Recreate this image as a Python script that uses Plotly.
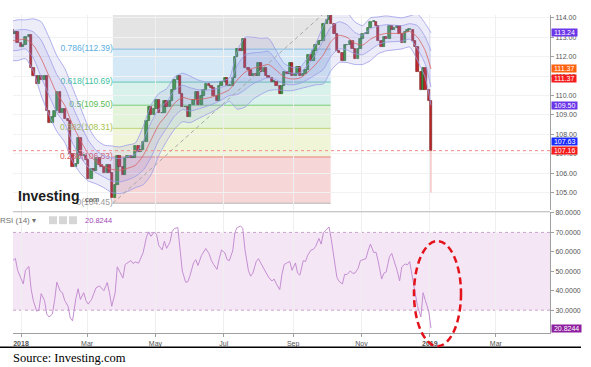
import pandas as pd
import plotly.graph_objects as go

W, H = 591, 367

# ---------------- data ----------------
first_open = 113.4
# closes on Mon / Wed / Fri, week by week, 25 Dec 2017 -> 2 Jan 2019
closes = [
    113.2, 113.3, 112.7,
    112.5, 112.6, 113.0,
    113.1, 111.4, 111.0,
    110.6, 111.0, 110.8,
    111.0, 109.2, 108.6,
    108.9, 109.2, 110.2,
    109.1, 109.3, 108.8,
    108.7, 107.0, 106.3,
    106.5, 107.8, 106.9,
    106.9, 106.7, 105.7,
    106.2, 106.1, 106.8,
    106.4, 106.3, 106.0,
    106.4, 106.0, 104.7,
    105.4, 106.9, 106.3,
    105.9, 106.8, 106.9,
    106.8, 106.8, 107.4,
    107.1, 107.2, 107.6,
    108.7, 109.4, 109.0,
    109.3, 109.8, 109.1,
    109.1, 109.7, 109.4,
    109.7, 110.3, 110.8,
    111.0, 110.1, 109.4,
    109.4, 108.9, 109.5,
    109.8, 110.2, 109.5,
    110.0, 110.3, 110.6,
    110.5, 110.4, 110.0,
    109.7, 110.5, 110.7,
    110.9, 110.5, 110.5,
    110.9, 112.0, 112.4,
    112.3, 112.9, 111.4,
    111.3, 111.0, 111.1,
    111.0, 111.7, 111.2,
    111.4, 111.0, 110.9,
    110.7, 110.7, 110.5,
    110.1, 110.5, 111.2,
    111.1, 111.7, 111.0,
    111.1, 111.5, 111.0,
    111.1, 111.3, 112.1,
    111.8, 112.3, 112.6,
    112.8, 112.8, 113.7,
    113.9, 114.5, 113.7,
    113.2, 112.3, 112.2,
    111.8, 112.6, 112.6,
    112.8, 112.4, 111.9,
    112.4, 112.9, 113.2,
    113.2, 113.5, 113.8,
    113.8, 113.6, 112.8,
    112.5, 113.0, 112.9,
    113.6, 113.4, 113.5,
    113.6, 113.2, 112.7,
    113.3, 113.4, 113.4,
    112.8, 112.5, 111.2,
    110.3, 111.4, 110.3,
    109.7, 107.16,
]
flash_crash_low = 105.0

rsi_values = [
    55.7, 56.6, 50.5,
    46.5, 43.5, 50.5,
    52.5, 41.0, 34.9,
    29.5, 30.0, 38.5,
    35.0, 28.0, 26.5,
    28.0, 35.0, 44.4,
    39.8, 39.0, 35.0,
    32.0, 26.0, 24.5,
    36.0, 41.0, 35.5,
    39.0, 35.0, 33.1,
    35.5, 38.5, 41.5,
    42.5, 41.3, 40.0,
    44.2, 39.0, 32.0,
    38.8, 52.3, 50.0,
    46.5, 53.5, 54.5,
    55.5, 54.0, 54.8,
    54.2, 56.6, 59.5,
    67.5, 70.3, 68.0,
    70.2, 69.0, 63.3,
    61.0, 65.5, 61.8,
    65.0, 70.5, 72.0,
    72.5, 59.2, 50.2,
    44.4, 44.6, 48.0,
    54.3, 56.0, 53.0,
    58.0, 60.0, 61.7,
    59.0, 55.5, 53.5,
    51.0, 56.5, 61.0,
    59.5, 56.0, 55.5,
    60.5, 70.0, 72.5,
    73.3, 72.0, 61.0,
    50.5, 47.5, 49.0,
    55.0, 56.5, 54.3,
    51.0, 48.5, 47.0,
    45.0, 46.0, 43.5,
    40.5, 48.5, 53.5,
    54.5, 55.0, 50.5,
    54.3, 49.0, 48.0,
    55.5, 55.0, 58.3,
    61.0, 61.3, 62.7,
    66.9, 64.0, 69.8,
    71.3, 72.8, 66.5,
    54.0, 47.0, 44.8,
    43.5, 48.5, 48.3,
    50.2, 49.0, 49.0,
    51.5, 55.5, 56.0,
    56.5, 60.8, 64.0,
    59.6, 59.8, 54.9,
    46.0, 49.0, 49.6,
    57.5, 59.2, 55.5,
    50.0, 45.0, 52.3,
    53.8, 53.3, 55.0,
    45.0, 38.7, 32.0,
    26.5, 39.0, 35.0,
    29.5, 20.8244,
]

# Bollinger band (20, 2): weekly readings of the middle line and the half-width
bb_mid = [
    112.8, 112.85,
    112.9, 112.6, 111.9, 111.0,
    110.1, 109.5, 108.5, 107.7,
    107.0, 106.6, 106.35, 106.2, 106.15,
    106.25, 106.4, 106.9, 107.7,
    108.5, 109.0, 109.6, 109.9,
    109.8, 109.8, 109.85, 109.95, 110.1,
    110.3, 110.8, 111.2, 111.4,
    111.5, 111.6, 111.3, 110.95, 110.85,
    110.9, 111.2, 111.6, 112.1,
    112.8, 113.1, 113.0, 112.7,
    112.6, 112.9, 113.1, 113.2, 113.2,
    113.2, 113.3, 113.0, 112.3,
    111.37,
]
bb_half = [
    1.0, 1.05,
    1.0, 1.35, 1.9, 2.0,
    1.95, 1.9, 1.9, 1.7,
    1.4, 1.15, 1.1, 1.2, 1.2,
    1.2, 1.15, 1.5, 1.8,
    1.6, 1.35, 1.35, 1.25,
    1.2, 1.0, 0.85, 0.75, 0.65,
    0.6, 1.5, 1.8, 1.6,
    1.45, 1.35, 1.0, 0.7, 0.6,
    0.55, 0.75, 1.05, 1.5,
    1.5, 1.4, 1.3, 1.1,
    1.0, 1.1, 0.95, 0.9, 0.85,
    0.8, 0.8, 1.2, 1.4,
    1.87,
]

fib_low, fib_high = 104.45, 114.55
fib_low_date, fib_high_date = "2018-03-24", "2018-10-04 12:00"
fib_ratios = [0, 0.236, 0.382, 0.5, 0.618, 0.786, 1]
fib_ratio_text = ["0", "0.236", "0.382", "0.5", "0.618", "0.786", "1"]

tag_values = [113.24, 111.37, 111.37, 109.50, 107.63, 107.16]
last_price = 107.16
rsi_last = 20.8244

month_ticks = ["2018-01-01", "2018-03-01", "2018-05-01", "2018-07-01",
               "2018-09-01", "2018-11-01", "2019-01-01", "2019-03-01"]
month_labels = ["<b>2018</b>", "Mar", "May", "Jul", "Sep", "Nov", "<b>2019</b>", "Mar"]
price_ticks = [104, 105, 106, 107, 108, 109, 110, 111, 112, 113, 114]
rsi_ticks = [30, 40, 50, 60, 70, 80]

# ---------------- helpers / derived ----------------
def px(x):
    return x / W


def py(y):
    return 1 - y / H


candle_dates = list(pd.bdate_range("2017-12-25", "2019-01-02", freq="C", weekmask="Mon Wed Fri"))
assert len(candle_dates) == len(closes) == len(rsi_values)
bb_dates = list(pd.date_range("2017-12-22", "2018-12-28", freq="W-FRI")) + [pd.Timestamp("2019-01-02")]
assert len(bb_dates) == len(bb_mid) == len(bb_half)

opens = [first_open] + closes[:-1]
body_base = [min(o, c) for o, c in zip(opens, closes)]
body_len = [max(abs(c - o), 0.03) for o, c in zip(opens, closes)]
body_col = ["#3a9a3e" if c >= o else "#c3282b" for o, c in zip(opens, closes)]
edge_col = ["#1d5a20" if c >= o else "#6a1012" for o, c in zip(opens, closes)]

upper2 = [m + h for m, h in zip(bb_mid, bb_half)]
lower2 = [m - h for m, h in zip(bb_mid, bb_half)]
upper1 = [m + h / 2 for m, h in zip(bb_mid, bb_half)]
lower1 = [m - h / 2 for m, h in zip(bb_mid, bb_half)]

fib_levels = [fib_low + r * (fib_high - fib_low) for r in fib_ratios]
zone_fill = ["#f6d6d6", "#f1f5d8", "#e3f4da", "#d8f1ea", "#d4e9f5", "#e4e4e4"]
level_line = ["#b8b8b8", "#e88484", "#bcd276", "#78ca78", "#62c6b2", "#80bae2", "#b0b0b0"]
level_text = ["#9a9a9a", "#e05a5a", "#a3c24a", "#57bb57", "#3dbf9f", "#5aaee0", "#999999"]

fig = go.Figure()

# fib labels (under bands and candles)
fig.add_trace(go.Scatter(
    x=[fib_low_date] * 6, y=fib_levels[:6], mode="text",
    text=[f"{t}({v:.2f})" for t, v in zip(fib_ratio_text[:6], fib_levels[:6])],
    textposition="middle left",
    textfont=dict(size=8.5, color=level_text[:6], family="Arial, Liberation Sans, sans-serif"),
    hoverinfo="skip", xaxis="x", yaxis="y"))

# Bollinger bands
band_line = dict(color="#9c9ce8", width=0.8, shape="spline", smoothing=0.6)
fig.add_trace(go.Scatter(x=bb_dates, y=upper2, mode="lines", line=band_line, xaxis="x", yaxis="y"))
fig.add_trace(go.Scatter(x=bb_dates, y=lower2, mode="lines", line=band_line, fill="tonexty",
                         fillcolor="rgba(150,150,228,0.17)", xaxis="x", yaxis="y"))
fig.add_trace(go.Scatter(x=bb_dates, y=upper1, mode="lines", line=band_line, xaxis="x", yaxis="y"))
fig.add_trace(go.Scatter(x=bb_dates, y=lower1, mode="lines", line=band_line, fill="tonexty",
                         fillcolor="rgba(120,120,215,0.13)", xaxis="x", yaxis="y"))
fig.add_trace(go.Scatter(x=bb_dates, y=bb_mid, mode="lines",
                         line=dict(color="#d96060", width=0.8, shape="spline", smoothing=0.6),
                         xaxis="x", yaxis="y"))

# fib trend line (low -> high)
fig.add_trace(go.Scatter(x=[fib_low_date, fib_high_date], y=[fib_low, fib_high], mode="lines",
                         line=dict(color="#a8a8a8", width=1, dash="4px,3px"), xaxis="x", yaxis="y"))

# flash-crash wick of the last candle
fig.add_trace(go.Scatter(x=[candle_dates[-1], candle_dates[-1]], y=[flash_crash_low, body_base[-1]],
                         mode="lines", line=dict(color="#f2a6a6", width=1), xaxis="x", yaxis="y"))

# candle bodies
fig.add_trace(go.Bar(x=candle_dates, y=body_len, base=body_base, width=2.1 * 86400000,
                     marker=dict(color=body_col, line=dict(color=edge_col, width=0.6)),
                     xaxis="x", yaxis="y"))

# RSI
fig.add_trace(go.Scatter(x=candle_dates, y=rsi_values, mode="lines",
                         line=dict(color="#c48ed2", width=1), xaxis="x2", yaxis="y2"))

shapes = []
for i in range(6):
    shapes.append(dict(type="rect", xref="x", yref="y", x0=fib_low_date, x1=fib_high_date,
                       y0=fib_levels[i], y1=fib_levels[i + 1], fillcolor=zone_fill[i],
                       line=dict(width=0), layer="below"))
for i in range(7):
    shapes.append(dict(type="line", xref="x", yref="y", x0=fib_low_date, x1=fib_high_date,
                       y0=fib_levels[i], y1=fib_levels[i], line=dict(color=level_line[i], width=1),
                       layer="below"))
# last price dotted line
shapes.append(dict(type="line", xref="paper", yref="y", x0=px(13), x1=px(550),
                   y0=last_price, y1=last_price, line=dict(color="#f08c8c", width=1, dash="dot")))
# RSI 30-70 band
shapes.append(dict(type="rect", xref="paper", yref="y2", x0=px(13), x1=px(550), y0=30, y1=70,
                   fillcolor="#f4e6f5", line=dict(width=0), layer="below"))
for lv in (30, 70):
    shapes.append(dict(type="line", xref="paper", yref="y2", x0=px(13), x1=px(550), y0=lv, y1=lv,
                       line=dict(color="#c6a4c8", width=1, dash="3px,3px"), layer="below"))
# panel separator
shapes.append(dict(type="line", xref="paper", yref="paper", x0=px(13), x1=px(550),
                   y0=py(210.5), y1=py(210.5), line=dict(color="#b4b4b4", width=1)))
# RSI header icons
for xl in (49, 59, 69):
    shapes.append(dict(type="rect", xref="paper", yref="paper", x0=px(xl), x1=px(xl + 8),
                       y0=py(223), y1=py(215), fillcolor="#d6d6d6", line=dict(width=0)))
# page rule under chart
shapes.append(dict(type="line", xref="paper", yref="paper", x0=0, x1=px(581),
                   y0=py(347), y1=py(347), line=dict(color="black", width=1.5)))
# red dashed ellipse
shapes.append(dict(type="circle", xref="paper", yref="paper", x0=px(414), x1=px(461),
                   y0=py(346), y1=py(240), line=dict(color="#e3121b", width=2.5, dash="7px,4px")))

annotations = []
tag_colors = ["#6b36e8", "#ff6310", "#f41c1c", "#6b36e8", "#1c2cff", "#f41c1c"]
tag_shift = [0, 0, -10, 0, 0, 0]
for v, c, s in zip(tag_values, tag_colors, tag_shift):
    annotations.append(dict(x=px(551), xref="paper", xanchor="left", y=v, yref="y", yanchor="middle",
                            yshift=s, text=f" {v:.2f} ", showarrow=False, bgcolor=c, borderpad=0,
                            font=dict(size=7, color="white")))
annotations.append(dict(x=px(551), xref="paper", xanchor="left", y=rsi_last, yref="y2",
                        yanchor="middle", text=f" {rsi_last:.4f} ", showarrow=False,
                        bgcolor="#8e1f9e", borderpad=0, font=dict(size=7, color="white")))
annotations.append(dict(x=px(-2), xref="paper", xanchor="left", y=py(219), yref="paper",
                        yanchor="middle", text="RSI (14) ▾", showarrow=False,
                        font=dict(size=8, color="#707070")))
annotations.append(dict(x=px(83), xref="paper", xanchor="left", y=py(219), yref="paper",
                        yanchor="middle", text=f"{rsi_last:.4f}", showarrow=False,
                        font=dict(size=7.5, color="#a447b6")))
annotations.append(dict(x=px(16), xref="paper", xanchor="left", y=py(195), yref="paper",
                        yanchor="middle", text="<b>Investing</b>", showarrow=False,
                        font=dict(size=14, color="#1c1c1c", family="Arial, Liberation Sans, sans-serif")))
annotations.append(dict(x=px(81), xref="paper", xanchor="left", y=py(198.5), yref="paper",
                        yanchor="middle", text=".com", showarrow=False,
                        font=dict(size=7.5, color="#444444")))
annotations.append(dict(x=px(11), xref="paper", xanchor="left", y=py(357.5), yref="paper",
                        yanchor="middle", text="Source: Investing.com", showarrow=False,
                        font=dict(size=12.5, color="black",
                                  family="Liberation Serif, Times New Roman, serif")))

x_range = ["2017-12-24 20:34", "2019-04-18 07:12"]
axis_font = dict(size=7, color="#555555")

fig.update_layout(
    width=W, height=H, margin=dict(l=0, r=0, t=0, b=0),
    paper_bgcolor="white", plot_bgcolor="white", showlegend=False,
    font=dict(family="Arial, Liberation Sans, sans-serif", size=8, color="#555555"),
    bargap=0, hovermode=False,
    xaxis=dict(domain=[px(13), px(550)], range=x_range, type="date", anchor="y",
               tickvals=month_ticks, showticklabels=False, showgrid=True, gridcolor="#efefef",
               zeroline=False, showline=False, ticks=""),
    xaxis2=dict(domain=[px(13), px(550)], range=x_range, type="date", anchor="y2", matches="x",
                tickvals=month_ticks, ticktext=month_labels, showgrid=True, gridcolor="#efefef",
                zeroline=False, showline=True, linecolor="#a0a0a0", linewidth=1,
                ticks="outside", ticklen=3, tickcolor="#a0a0a0", tickfont=axis_font),
    yaxis=dict(domain=[py(209), py(12)], range=[104.087, 114.153], side="right", anchor="x",
               tickvals=price_ticks, ticktext=[f"{v:.2f}" for v in price_ticks],
               showgrid=True, gridcolor="#f2f2f2", zeroline=False, showline=True,
               linecolor="#a0a0a0", linewidth=1, ticks="outside", ticklen=3,
               tickcolor="#a0a0a0", tickfont=axis_font),
    yaxis2=dict(domain=[py(333), py(211)], range=[18.11, 80.36], side="right", anchor="x2",
                tickvals=rsi_ticks, ticktext=[f"{v:.4f}" for v in rsi_ticks],
                showgrid=False, zeroline=False, showline=True, linecolor="#a0a0a0", linewidth=1,
                ticks="outside", ticklen=3, tickcolor="#a0a0a0", tickfont=axis_font),
    shapes=shapes, annotations=annotations,
)

fig.write_html("out.html", config={"displayModeBar": False},
               post_script="document.body.style.margin='0';document.body.style.overflow='hidden';")
